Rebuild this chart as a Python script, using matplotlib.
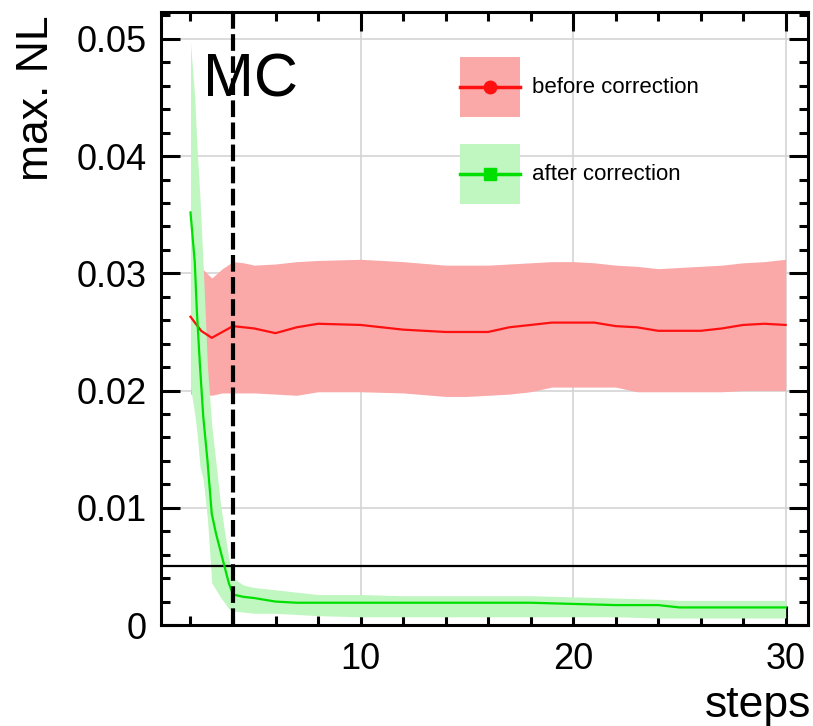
import numpy as np
import matplotlib.pyplot as plt
import matplotlib.ticker as ticker
from matplotlib.lines import Line2D
from matplotlib.patches import Patch
from matplotlib.legend_handler import HandlerLine2D

plt.rcParams['font.family'] = ['Liberation Sans', 'DejaVu Sans']

# before correction (red)
steps_before = [2.0, 2.5, 3.0, 3.5, 4.0, 4.5, 5, 6, 7, 8, 10, 12, 14, 15, 16, 17, 18, 19,
                20, 21, 22, 23, 24, 25, 26, 27, 28, 29, 30]
before_mean = [0.0263, 0.0251, 0.0245, 0.0250, 0.0255, 0.0254, 0.0253, 0.0249, 0.0254, 0.0257,
               0.0256, 0.0252, 0.0250, 0.0250, 0.0250, 0.0254, 0.0256, 0.0258, 0.0258, 0.0258,
               0.0255, 0.0254, 0.0251, 0.0251, 0.0251, 0.0253, 0.0256, 0.0257, 0.0256]
before_hi = [0.0305, 0.0305, 0.0296, 0.0304, 0.0310, 0.0309, 0.0307, 0.0308, 0.0310, 0.0311,
             0.0312, 0.0310, 0.0307, 0.0307, 0.0307, 0.0308, 0.0309, 0.0310, 0.0310, 0.0309,
             0.0307, 0.0306, 0.0304, 0.0305, 0.0306, 0.0307, 0.0309, 0.0310, 0.0312]
before_lo = [0.0197, 0.0197, 0.0196, 0.0198, 0.0198, 0.0198, 0.0198, 0.0197, 0.0196, 0.0199,
             0.0199, 0.0198, 0.0195, 0.0195, 0.0196, 0.0197, 0.0199, 0.0203, 0.0203, 0.0203,
             0.0203, 0.0199, 0.0199, 0.0199, 0.0199, 0.0199, 0.0200, 0.0200, 0.0200]

# after correction (green)
steps_after = [2.0, 2.2, 2.3, 2.45, 2.6, 2.8, 3.0, 3.2, 3.4, 3.6, 3.8, 4.0, 4.5, 5, 6, 7, 8,
               10, 12, 15, 18, 20, 22, 24, 25, 26, 28, 30]
after_mean = [0.0352, 0.0310, 0.0268, 0.0220, 0.0178, 0.0140, 0.0095, 0.0078, 0.0064, 0.0050,
              0.0036, 0.0026, 0.0024, 0.0023, 0.0020, 0.0019, 0.0019, 0.0019, 0.0019, 0.0019,
              0.0019, 0.0018, 0.0017, 0.0017, 0.0015, 0.0015, 0.0015, 0.0015]
after_hi = [0.0497, 0.0450, 0.0410, 0.0363, 0.0306, 0.0220, 0.0170, 0.0138, 0.0105, 0.0080,
            0.0057, 0.0040, 0.0034, 0.0032, 0.0030, 0.0028, 0.0026, 0.0026, 0.0025, 0.0025,
            0.0025, 0.0024, 0.0023, 0.0022, 0.0021, 0.0021, 0.0021, 0.0021]
after_lo = [0.0203, 0.0180, 0.0165, 0.0135, 0.0124, 0.0090, 0.0036, 0.0030, 0.0024, 0.0019,
            0.0014, 0.0012, 0.0011, 0.0010, 0.0010, 0.0009, 0.0008, 0.0007, 0.0007, 0.0007,
            0.0007, 0.0007, 0.0007, 0.0006, 0.0006, 0.0006, 0.0006, 0.0006]

mc_step = 4
nl_limit = 0.005

red_band = '#faa8a8'
green_band = '#c0f6c0'


# legend line drawn through the middle of the (tall) band swatch
class CenteredLine(HandlerLine2D):
    def create_artists(self, legend, orig_handle, xdescent, ydescent, width, height, fontsize, trans):
        artists = super().create_artists(legend, orig_handle, xdescent, ydescent,
                                         width, height, fontsize, trans)
        for a in artists:
            a.set_ydata(np.asarray(a.get_ydata()) - ydescent / 2)
        return artists


fig = plt.figure(figsize=(8.13, 7.26), dpi=100)
ax = fig.add_axes([0.1977, 0.1391, 0.7961, 0.8444])

ax.fill_between(steps_before, before_lo, before_hi, color=red_band, lw=0, zorder=2)
ax.fill_between(steps_after, after_lo, after_hi, color=green_band, lw=0, zorder=3)
ax.axhline(nl_limit, color='black', lw=1.6, zorder=4)
ax.plot(steps_before, before_mean, color='#ff1010', lw=1.6, zorder=5)
ax.plot(steps_after, after_mean, color='#00e000', lw=1.6, zorder=6)
ax.axvline(mc_step, color='black', lw=3, dashes=(4, 1.3), zorder=7)
ax.text(2.6, 0.0451, 'MC', fontsize=44, ha='left', va='baseline', zorder=8)

ax.set_xlim(0.6, 31.05)
ax.set_ylim(0, 0.0523)
ax.xaxis.set_major_locator(ticker.MultipleLocator(10))
ax.xaxis.set_minor_locator(ticker.MultipleLocator(2))
ax.yaxis.set_major_locator(ticker.MultipleLocator(0.01))
ax.yaxis.set_minor_locator(ticker.MultipleLocator(0.002))
ax.yaxis.set_major_formatter(ticker.FormatStrFormatter('%g'))

ax.grid(True, which='major', color='#d4d4d4', lw=1.2)
ax.set_axisbelow(True)
for s in ax.spines.values():
    s.set_linewidth(2.2)
ax.tick_params(which='both', direction='in', top=True, right=True, width=2.2)
ax.tick_params(which='major', length=13.5, labelsize=26)
ax.tick_params(which='minor', length=6.5)
ax.tick_params(axis='y', which='major', pad=10)
ax.tick_params(axis='x', which='major', pad=12)

ax.set_xlabel('steps', fontsize=32, loc='right')
ax.xaxis.set_label_coords(1.005, -0.098)
ax.set_ylabel('max. NL', fontsize=32, loc='top')
ax.yaxis.set_label_coords(-0.16, 0.995)

handles = [(Patch(facecolor=red_band, lw=0), Line2D([], [], color='#ff1010', lw=2.5, marker='o', markersize=9)),
           (Patch(facecolor=green_band, lw=0), Line2D([], [], color='#00e000', lw=2.5, marker='s', markersize=9))]
ax.legend(handles, ['before correction', 'after correction'], loc='upper left',
          bbox_to_anchor=(460 / 813, 1 - 57 / 726), bbox_transform=fig.transFigure,
          frameon=False, fontsize=16, handlelength=2.7, handleheight=3.78,
          handletextpad=0.55, labelspacing=1.2, borderpad=0, borderaxespad=0,
          handler_map={Line2D: CenteredLine()})

fig.savefig('out.png', dpi=100)
